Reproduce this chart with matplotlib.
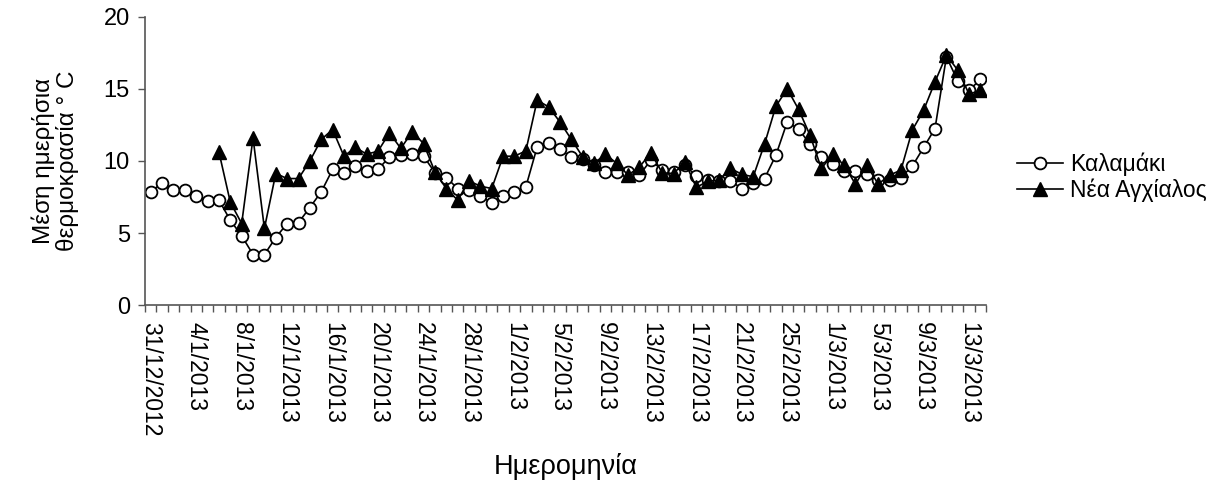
import numpy as np
import pandas as pd
import matplotlib
matplotlib.use("Agg")
import matplotlib.pyplot as plt
from matplotlib.ticker import FixedLocator

plt.rcParams['font.family'] = ['Liberation Sans', 'DejaVu Sans']

# --- data: daily mean temperature, 31/12/2012 .. 14/3/2013 ---
dates = pd.date_range("2012-12-31", periods=74, freq="D")
date_labels = [f"{d.day}/{d.month}/{d.year}" for d in dates]

kalamaki = [7.86, 8.48, 7.97, 7.97, 7.56, 7.23, 7.28, 5.89, 4.81, 3.51,
            3.51, 4.69, 5.66, 5.73, 6.77, 7.86, 9.41, 9.18, 9.64, 9.32,
            9.41, 10.29, 10.40, 10.45, 10.33, 9.20, 8.85, 8.09, 7.97, 7.56,
            7.10, 7.56, 7.86, 8.20, 10.98, 11.28, 10.80, 10.29, 10.17, 9.71,
            9.25, 9.25, 9.25, 9.02, 10.06, 9.36, 9.25, 9.71, 8.95, 8.71,
            8.62, 8.62, 8.09, 8.44, 8.78, 10.40, 12.71, 12.21, 11.17, 10.29,
            9.78, 9.30, 9.32, 9.13, 8.67, 8.67, 8.85, 9.64, 10.94, 12.25,
            17.22, 15.56, 14.91, 15.65]

nea_agxialos = [np.nan] * 6 + [
    10.62, 7.14, 5.66, 11.60, 5.32, 9.13, 8.78, 8.78, 10.00, 11.49,
    12.18, 10.33, 10.94, 10.47, 10.68, 11.95, 10.87, 12.02, 11.21, 9.25,
    8.09, 7.28, 8.62, 8.25, 8.09, 10.33, 10.33, 10.70, 14.22, 13.75,
    12.71, 11.50, 10.29, 9.83, 10.47, 9.83, 9.02, 9.59, 10.56, 9.18,
    9.13, 9.94, 8.16, 8.60, 8.67, 9.48, 9.08, 8.90, 11.17, 13.80,
    15.00, 13.57, 11.79, 9.48, 10.47, 9.71, 8.39, 9.71, 8.39, 9.02,
    9.36, 12.14, 13.52, 15.49, 17.34, 16.30, 14.63, 14.91]

y_ticks = [0, 5, 10, 15, 20]
label_every = 4

x = np.arange(len(dates))

fig = plt.figure(figsize=(12.19, 4.93), dpi=100)
ax = fig.add_axes([0.119, 0.381, 0.690, 0.585])

ax.plot(x, kalamaki, color='black', lw=1.2, marker='o', markersize=8.5,
        markerfacecolor='white', markeredgecolor='black', markeredgewidth=1.3,
        label='Καλαμάκι')
ax.plot(x, nea_agxialos, color='black', lw=1.2, marker='^', markersize=9.5,
        markerfacecolor='black', markeredgecolor='black',
        label='Νέα Αγχίαλος')

ax.set_xlim(-0.5, len(dates) - 0.5)
ax.set_ylim(0, 20)
ax.set_yticks(y_ticks)

# ticks between categories, labels every 4 days
ax.xaxis.set_major_locator(FixedLocator(x[::label_every]))
ax.set_xticklabels(date_labels[::label_every], rotation=270, fontsize=16.5)
ax.xaxis.set_minor_locator(FixedLocator(np.arange(len(dates) + 1) - 0.5))
ax.tick_params(axis='x', which='major', length=0, pad=12)
ax.tick_params(axis='x', which='minor', length=5, width=1, color='#555555',
               direction='out')
ax.tick_params(axis='y', length=5, width=1, color='#555555', labelsize=17,
               pad=6)

for s in ['top', 'right']:
    ax.spines[s].set_visible(False)
for s in ['left', 'bottom']:
    ax.spines[s].set_color('#555555')
    ax.spines[s].set_linewidth(1.2)

ax.set_ylabel('Μέση ημερήσια\nθερμοκρασία ° C', fontsize=17.5, labelpad=18,
              linespacing=1.05)
ax.set_xlabel('Ημερομηνία', fontsize=19.5, labelpad=12)

ax.legend(loc='center left', bbox_to_anchor=(0.827, 0.64),
          bbox_transform=fig.transFigure, frameon=False, fontsize=16.5,
          handlelength=2.0, handletextpad=0.3, labelspacing=0.1,
          borderaxespad=0)

fig.savefig('out.png', dpi=100)
